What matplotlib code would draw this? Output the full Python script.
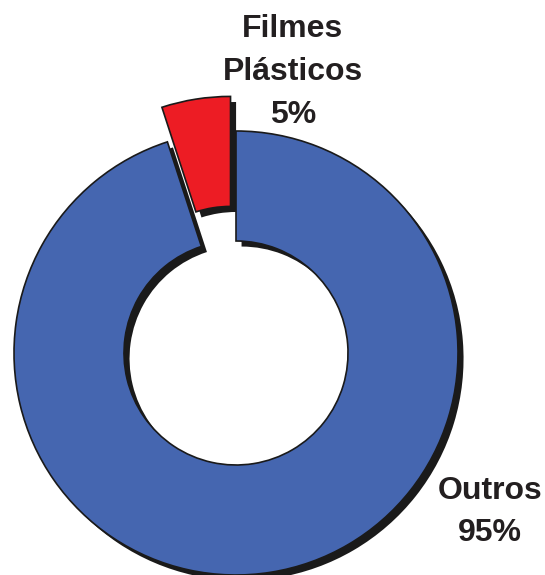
import matplotlib.pyplot as plt
import matplotlib.patheffects as pe

# dados do grafico
categorias = ['Filmes\nPlásticos', 'Outros']
percentuais = [5, 95]
cores = ['#ED1C24', '#4566B0']

fig = plt.figure(figsize=(5.45, 5.75), dpi=100)
ax = fig.add_axes([0, 0, 1, 1])

raio = 222
centro = (236, 575 - 353)
sombra = [pe.SimplePatchShadow(offset=(4, -4), shadow_rgbFace='#1a1a1a', alpha=1.0), pe.Normal()]

# explode no pie e em unidades absolutas (nao multiplica pelo raio)
fatias, _ = ax.pie(percentuais, colors=cores, startangle=90, counterclock=True,
                   explode=[35, 0], radius=raio, center=centro,
                   wedgeprops=dict(width=raio - 112, edgecolor='#1a1a1a', linewidth=1.2))
for w in fatias:
    w.set_path_effects(sombra)

# pie() mexe nos limites, entao define depois
ax.set_xlim(0, 545)
ax.set_ylim(0, 575)
ax.set_aspect('equal')
ax.axis('off')

fonte = dict(family='Liberation Sans', weight='bold', fontsize=23, color='#231F20',
             ha='center', va='center', linespacing=1.55)
ax.text(293, 575 - 72, f'{categorias[0]}\n{percentuais[0]}%', **fonte)
ax.text(490, 575 - 512, f'{categorias[1]}\n{percentuais[1]}%', **fonte)

fig.savefig('out.png', dpi=100)
